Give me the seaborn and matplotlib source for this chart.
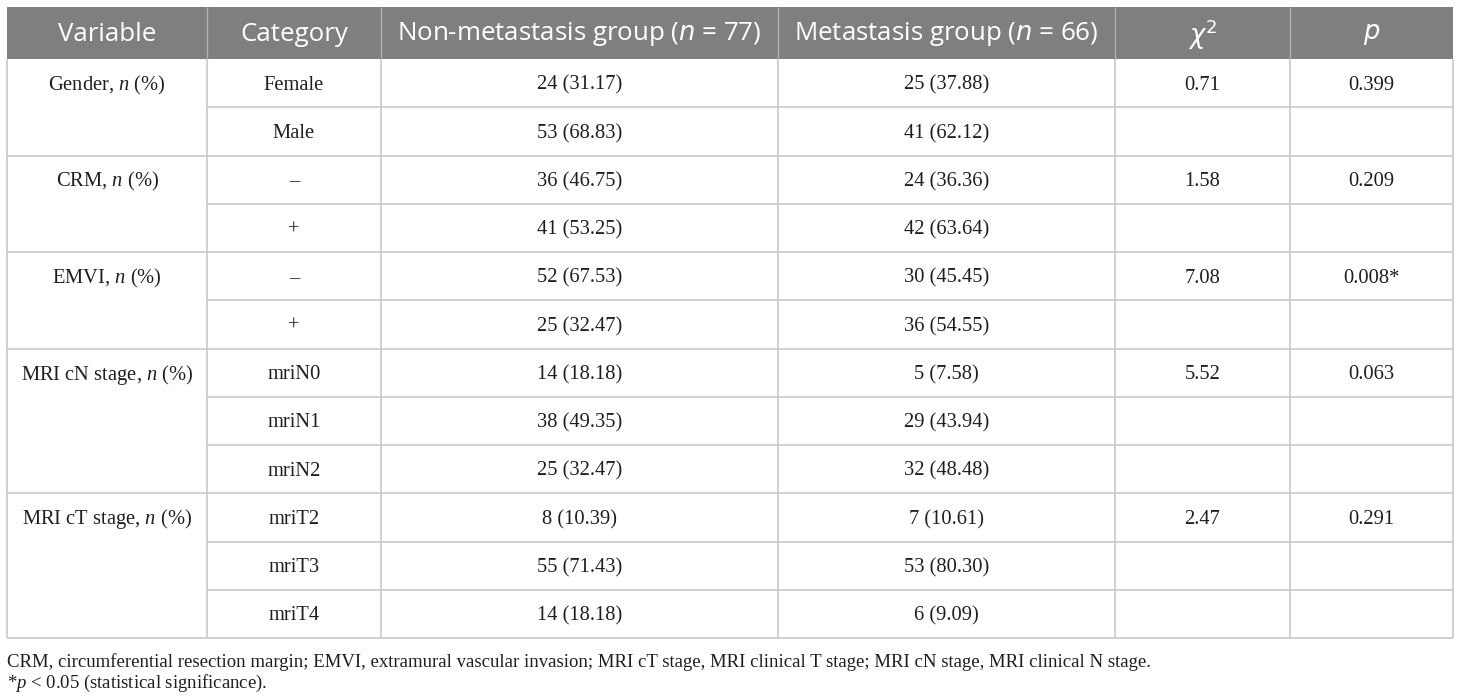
import matplotlib
matplotlib.use("Agg")
import matplotlib.pyplot as plt
import seaborn as sns

# table content
variables = ["Gender, $n$ (%)", "CRM, $n$ (%)", "EMVI, $n$ (%)",
             "MRI cN stage, $n$ (%)", "MRI cT stage, $n$ (%)"]
categories = [["Female", "Male"], ["–", "+"], ["–", "+"],
              ["mriN0", "mriN1", "mriN2"], ["mriT2", "mriT3", "mriT4"]]
non_metastasis = [["24 (31.17)", "53 (68.83)"], ["36 (46.75)", "41 (53.25)"],
                  ["52 (67.53)", "25 (32.47)"],
                  ["14 (18.18)", "38 (49.35)", "25 (32.47)"],
                  ["8 (10.39)", "55 (71.43)", "14 (18.18)"]]
metastasis = [["25 (37.88)", "41 (62.12)"], ["24 (36.36)", "42 (63.64)"],
              ["30 (45.45)", "36 (54.55)"],
              ["5 (7.58)", "29 (43.94)", "32 (48.48)"],
              ["7 (10.61)", "53 (80.30)", "6 (9.09)"]]
chi2 = ["0.71", "1.58", "7.08", "5.52", "2.47"]
p_values = ["0.399", "0.209", "0.008*", "0.063", "0.291"]
headers = ["Variable", "Category", "Non-metastasis group ($n$ = 77)",
           "Metastasis group ($n$ = 66)", r"$\chi^2$", "$p$"]
footnotes = ["CRM, circumferential resection margin; EMVI, extramural vascular invasion; "
             "MRI cT stage, MRI clinical T stage; MRI cN stage, MRI clinical N stage.",
             "*$p$ < 0.05 (statistical significance)."]

sns.set_theme(style="white")
plt.rcParams["mathtext.fontset"] = "custom"
plt.rcParams["mathtext.rm"] = "Liberation Serif"
plt.rcParams["mathtext.it"] = "Liberation Serif:italic"

header_bg = "#7f7f7f"
line_col = "#c9c9c9"
text_col = "#1e1e1e"
serif = "Liberation Serif"
sans = "Open Sans"
body_size = 14.8

fig = plt.figure(figsize=(14.6, 7), dpi=100)
ax = fig.add_axes([0, 0, 1, 1])
ax.set_xlim(0, 1460)
ax.set_ylim(700, 0)
ax.axis("off")

col_edges = [7, 207, 381, 778, 1115, 1290, 1453]
top, head_bottom, bottom = 7, 59, 638
n_rows = sum(len(c) for c in categories)
row_h = (bottom - head_bottom) / n_rows
centers = [(col_edges[i] + col_edges[i + 1]) / 2 for i in range(6)]
dy = 2  # small downward nudge of body text

# header
ax.add_patch(plt.Rectangle((col_edges[0], top), col_edges[-1] - col_edges[0],
                           head_bottom - top, color=header_bg, lw=0))
for x, h in zip(centers, headers):
    ax.text(x, 34.5, h, family=sans, size=18.6, color="white", ha="center",
            va="center", math_fontfamily="dejavusans")
ax.vlines(col_edges[1:-1], top, head_bottom, color="#b0b0b0", lw=1)

# body
row = 0
for g, var in enumerate(variables):
    g_top = head_bottom + row * row_h
    n = len(categories[g])
    for c, val in zip([centers[0], centers[4], centers[5]],
                      [var, chi2[g], p_values[g]]):
        ax.text(c, g_top + row_h / 2 + dy, val, family=serif, size=body_size,
                color=text_col, ha="center", va="center")
    for k in range(n):
        y = head_bottom + (row + k + 0.5) * row_h + dy
        for c, val in zip(centers[1:4], [categories[g][k], non_metastasis[g][k],
                                         metastasis[g][k]]):
            ax.text(c, y, val, family=serif, size=body_size, color=text_col,
                    ha="center", va="center")
        if k < n - 1:
            ax.hlines(head_bottom + (row + k + 1) * row_h, col_edges[1],
                      col_edges[-1], color=line_col, lw=1.2)
    row += n
    ax.hlines(head_bottom + row * row_h, col_edges[0], col_edges[-1],
              color=line_col, lw=1.2)

ax.vlines(col_edges, head_bottom, bottom, color=line_col, lw=1.2)

# footnotes
ax.text(col_edges[0], 662, footnotes[0], family=serif, size=13.5,
        color=text_col, ha="left", va="center")
ax.text(col_edges[0], 683, footnotes[1], family=serif, size=13.5,
        color=text_col, ha="left", va="center")

fig.savefig("out.png", dpi=100, facecolor="white")
